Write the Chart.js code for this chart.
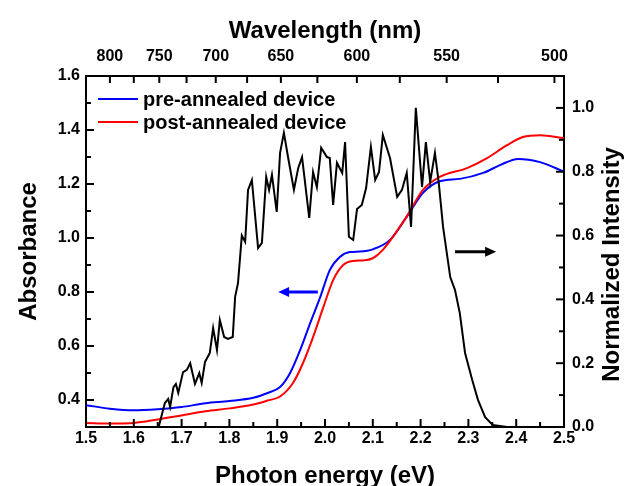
<!DOCTYPE html>
<html><head><meta charset="utf-8">
<script src="https://cdn.jsdelivr.net/npm/chart.js@4/dist/chart.umd.min.js"></script>
<style>html,body{margin:0;padding:0;background:#fff;}#wrap{width:628px;height:486px;}</style>
</head><body><div id="wrap"><canvas id="c" width="628" height="486"></canvas></div>
<script>
// ---- data ----
const energyTicks = [1.5,1.6,1.7,1.8,1.9,2.0,2.1,2.2,2.3,2.4,2.5];
const energyMinor = [1.55,1.65,1.75,1.85,1.95,2.05,2.15,2.25,2.35,2.45];
const absTicks = [0.4,0.6,0.8,1.0,1.2,1.4,1.6];
const absMinor = [0.5,0.7,0.9,1.1,1.3,1.5];
const intensityTicks = [0.0,0.2,0.4,0.6,0.8,1.0];
const intensityMinor = [0.1,0.3,0.5,0.7,0.9];
const wavelengthTicks = [800,750,700,650,600,550,500];
const wavelengthMinor = [775,725,675,625,575,525];

const preE = [1.50,1.55,1.60,1.65,1.70,1.75,1.80,1.85,1.88,1.906,1.927,1.948,1.969,1.990,2.010,2.031,2.052,2.073,2.100,2.136,2.171,2.205,2.240,2.282,2.331,2.366,2.404,2.450,2.500];
const preA = [0.381,0.368,0.362,0.366,0.374,0.388,0.396,0.408,0.426,0.448,0.500,0.585,0.685,0.781,0.881,0.930,0.948,0.950,0.958,0.993,1.078,1.167,1.210,1.219,1.241,1.270,1.293,1.281,1.246];

const postE = [1.50,1.55,1.60,1.65,1.70,1.75,1.80,1.85,1.88,1.906,1.933,1.954,1.975,1.996,2.017,2.038,2.059,2.080,2.100,2.121,2.171,2.205,2.240,2.297,2.339,2.381,2.414,2.450,2.500];
const postA = [0.315,0.313,0.315,0.328,0.343,0.358,0.369,0.383,0.398,0.413,0.463,0.537,0.633,0.741,0.844,0.900,0.915,0.917,0.925,0.956,1.080,1.178,1.226,1.259,1.296,1.344,1.374,1.381,1.370];

const plE = [1.652,1.665,1.672,1.676,1.683,1.688,1.693,1.703,1.711,1.718,1.728,1.737,1.742,1.749,1.759,1.766,1.774,1.780,1.789,1.797,1.807,1.812,1.818,1.826,1.833,1.839,1.847,1.860,1.868,1.877,1.883,1.889,1.899,1.906,1.914,1.923,1.935,1.944,1.952,1.967,1.975,1.983,1.992,2.004,2.010,2.017,2.025,2.036,2.042,2.050,2.059,2.067,2.077,2.086,2.096,2.105,2.113,2.121,2.136,2.151,2.161,2.171,2.180,2.190,2.203,2.211,2.220,2.230,2.238,2.247,2.262,2.272,2.282,2.293,2.308,2.320,2.335,2.351,2.381,2.390];
const plI = [0.0,0.075,0.088,0.063,0.125,0.135,0.107,0.172,0.179,0.200,0.135,0.169,0.138,0.204,0.232,0.310,0.241,0.335,0.282,0.276,0.282,0.408,0.451,0.600,0.580,0.743,0.774,0.561,0.577,0.784,0.743,0.790,0.674,0.859,0.922,0.843,0.743,0.812,0.846,0.655,0.799,0.752,0.875,0.846,0.843,0.696,0.828,0.796,0.893,0.596,0.586,0.683,0.696,0.749,0.878,0.774,0.799,0.915,0.843,0.721,0.743,0.796,0.627,1.000,0.752,0.893,0.768,0.859,0.765,0.627,0.470,0.429,0.357,0.232,0.147,0.085,0.031,0.006,0.0,0.0];

const seriesNames = ['pre-annealed device','post-annealed device'];
const xTitle = 'Photon energy (eV)';
const topTitle = 'Wavelength (nm)';
const yTitle = 'Absorbance';
const y2Title = 'Normalized Intensity';

// ---- chart ----
const FONT = '"Liberation Sans", Arial, Helvetica, sans-serif';
Chart.defaults.font.family = FONT;
Chart.defaults.color = '#000';
const tickFont = {size:16, weight:'bold', lineHeight:1.2};
const titleFont = {size:24, weight:'bold', lineHeight:1};
const noGrid = {display:false, drawTicks:false, tickLength:0};
const zip = (xs, ys) => xs.map((x,i)=>({x:x, y:ys[i]}));

const tickPlugin = {
  id:'innerTicks',
  afterDraw(chart){
    const ctx = chart.ctx, a = chart.chartArea, s = chart.scales;
    ctx.save();
    ctx.strokeStyle = '#000'; ctx.lineWidth = 2; ctx.lineCap = 'butt';
    const seg = (x1,y1,x2,y2)=>{ctx.beginPath();ctx.moveTo(x1,y1);ctx.lineTo(x2,y2);ctx.stroke();};
    energyTicks.forEach(v=>{const x=s.x.getPixelForValue(v); seg(x,a.bottom,x,a.bottom-8);});
    energyMinor.forEach(v=>{const x=s.x.getPixelForValue(v); seg(x,a.bottom,x,a.bottom-5);});
    wavelengthTicks.concat(wavelengthMinor).forEach(l=>{const x=s.xTop.getPixelForValue(1240/l); seg(x,a.top,x,a.top+7);});
    absTicks.forEach(v=>{const y=s.y.getPixelForValue(v); seg(a.left,y,a.left+8,y);});
    absMinor.forEach(v=>{const y=s.y.getPixelForValue(v); seg(a.left,y,a.left+5,y);});
    intensityTicks.forEach(v=>{const y=s.y2.getPixelForValue(v); seg(a.right,y,a.right-8,y);});
    intensityMinor.forEach(v=>{const y=s.y2.getPixelForValue(v); seg(a.right,y,a.right-5,y);});
    ctx.restore();
  }
};

const decoPlugin = {
  id:'deco',
  afterDraw(chart){
    const ctx = chart.ctx, a = chart.chartArea, s = chart.scales;
    ctx.save();
    // legend
    const ds = chart.data.datasets;
    ctx.font = 'bold 20px ' + FONT;
    ctx.textBaseline = 'middle'; ctx.textAlign = 'left';
    [0,1].forEach(i=>{
      const y = a.top + 23 + i*23;
      ctx.strokeStyle = ds[i].borderColor; ctx.lineWidth = 2;
      ctx.beginPath(); ctx.moveTo(a.left+12,y); ctx.lineTo(a.left+52,y); ctx.stroke();
      ctx.fillStyle = '#000'; ctx.fillText(ds[i].label, a.left+57, y+1);
    });
    // arrows
    const arrow = (x1,x2,y,color)=>{
      const dir = Math.sign(x2-x1);
      ctx.strokeStyle = color; ctx.fillStyle = color; ctx.lineWidth = 3;
      ctx.beginPath(); ctx.moveTo(x1,y); ctx.lineTo(x2-dir*9,y); ctx.stroke();
      ctx.beginPath(); ctx.moveTo(x2,y); ctx.lineTo(x2-dir*11,y-5); ctx.lineTo(x2-dir*11,y+5); ctx.closePath(); ctx.fill();
    };
    arrow(s.x.getPixelForValue(1.985), s.x.getPixelForValue(1.902), s.y.getPixelForValue(0.80), '#0000ff');
    arrow(s.x.getPixelForValue(2.272), s.x.getPixelForValue(2.358), s.y2.getPixelForValue(0.549), '#000');
    // right title, reading bottom-to-top
    ctx.fillStyle = '#000';
    ctx.font = 'bold 24px ' + FONT;
    ctx.textAlign = 'center'; ctx.textBaseline = 'middle';
    ctx.translate(612, (a.top+a.bottom)/2 + 13);
    ctx.rotate(-Math.PI/2);
    ctx.fillText(y2Title, 0, 0);
    ctx.restore();
  }
};

new Chart(document.getElementById('c'), {
  type:'line',
  data:{datasets:[
    {label:seriesNames[0], data:zip(preE,preA), borderColor:'#0000ff', borderWidth:2, pointRadius:0, cubicInterpolationMode:'monotone', xAxisID:'x', yAxisID:'y', order:2},
    {label:seriesNames[1], data:zip(postE,postA), borderColor:'#ff0000', borderWidth:2, pointRadius:0, cubicInterpolationMode:'monotone', xAxisID:'x', yAxisID:'y', order:1},
    {label:'PL', data:zip(plE,plI), borderColor:'#000000', borderWidth:2, pointRadius:0, tension:0, xAxisID:'x', yAxisID:'y2', order:0}
  ]},
  options:{
    responsive:false, animation:false, devicePixelRatio:1,
    layout:{padding:0},
    plugins:{legend:{display:false}, tooltip:{enabled:false}},
    scales:{
      x:{type:'linear', position:'bottom', min:1.5, max:2.5,
        grid:noGrid, border:{display:true, color:'#000', width:2},
        afterBuildTicks:sc=>{sc.ticks = energyTicks.map(v=>({value:v}));},
        ticks:{font:tickFont, color:'#000', padding:2, autoSkip:false, maxRotation:0, callback:v=>Number(v).toFixed(1)},
        title:{display:true, text:xTitle, font:titleFont, color:'#000', padding:{top:0,bottom:-2}},
        afterFit:sc=>{sc.height = 59;}},
      xTop:{type:'linear', position:'top', min:1.5, max:2.5,
        grid:noGrid, border:{display:true, color:'#000', width:2},
        afterBuildTicks:sc=>{sc.ticks = wavelengthTicks.map(l=>({value:1240/l}));},
        ticks:{font:tickFont, color:'#000', padding:10, autoSkip:false, maxRotation:0, callback:v=>String(Math.round(1240/v))},
        title:{display:true, text:topTitle, font:titleFont, color:'#000', padding:{top:19,bottom:0}},
        afterFit:sc=>{sc.height = 76;}},
      y:{type:'linear', position:'left', min:0.3, max:1.6,
        grid:noGrid, border:{display:true, color:'#000', width:2},
        afterBuildTicks:sc=>{sc.ticks = absTicks.map(v=>({value:v}));},
        ticks:{font:tickFont, color:'#000', padding:6, autoSkip:false, callback:v=>Number(v).toFixed(1)},
        title:{display:true, text:yTitle, font:titleFont, color:'#000', padding:{top:17,bottom:0}},
        afterFit:sc=>{sc.width = 86;}},
      y2:{type:'linear', position:'right', min:0, max:1.1,
        grid:noGrid, border:{display:true, color:'#000', width:2},
        afterBuildTicks:sc=>{sc.ticks = intensityTicks.map(v=>({value:v}));},
        ticks:{font:tickFont, color:'#000', padding:8, autoSkip:false, callback:v=>Number(v).toFixed(1)},
        title:{display:false},
        afterFit:sc=>{sc.width = 64;}}
    }
  },
  plugins:[tickPlugin, decoPlugin]
});
</script></body></html>
